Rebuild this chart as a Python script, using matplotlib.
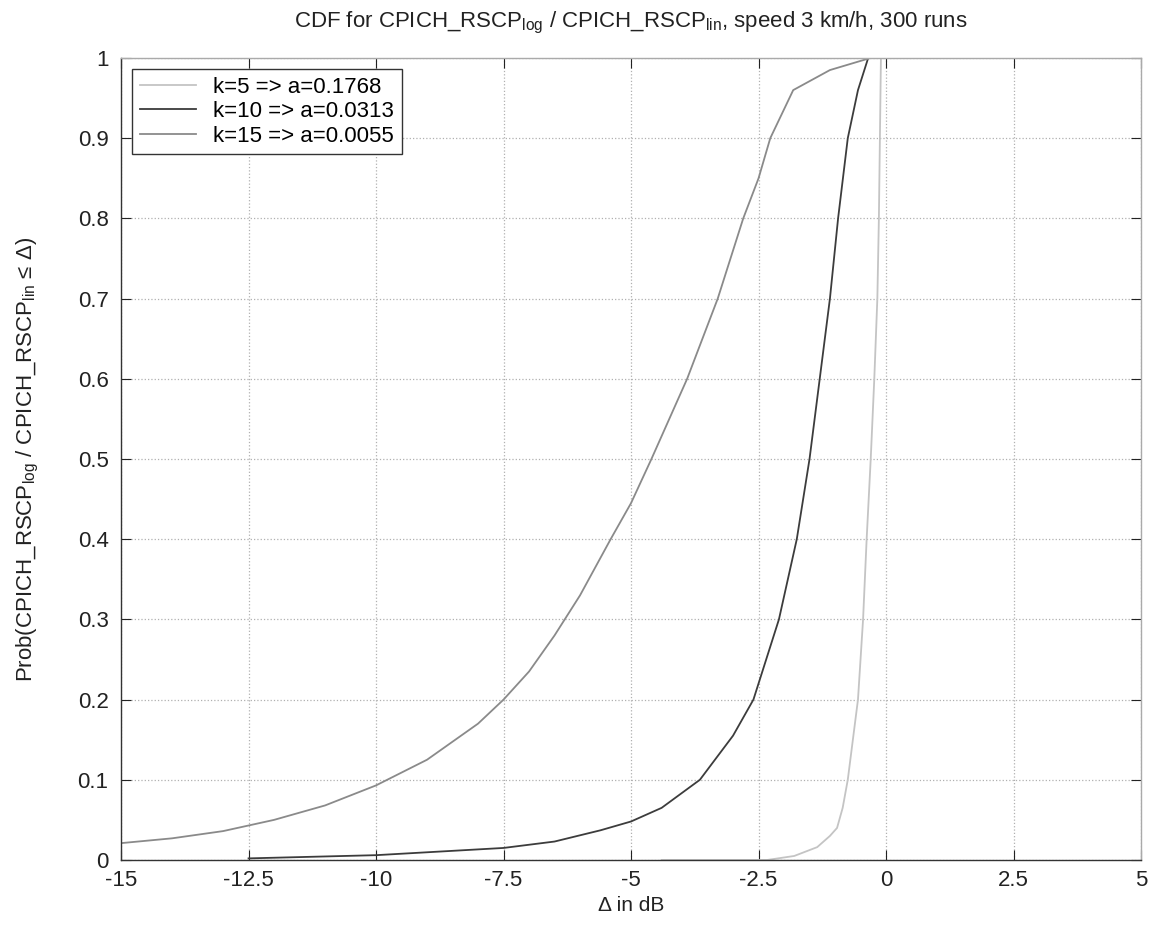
#!/usr/bin/env python3
"""CDF of log/lin averaged CPICH RSCP for three filter lengths (grayscale, MATLAB style)."""
import matplotlib
matplotlib.use("Agg")
import matplotlib.pyplot as plt

plt.rcParams["font.family"] = ["Liberation Sans", "DejaVu Sans"]
plt.rcParams["mathtext.fontset"] = "custom"
plt.rcParams["mathtext.rm"] = "Liberation Sans"
plt.rcParams["mathtext.default"] = "regular"
plt.rcParams["axes.unicode_minus"] = False

# k=5 => a=0.1768 (steepest, light gray)
k5_x = [-4.4, -2.33, -1.8, -1.35, -1.1, -0.96, -0.85, -0.75, -0.65, -0.55,
        -0.45, -0.38, -0.30, -0.23, -0.17, -0.14, -0.12, -0.10]
k5_y = [0.0, 0.0, 0.005, 0.016, 0.03, 0.04, 0.065, 0.10, 0.15, 0.20,
        0.30, 0.40, 0.50, 0.60, 0.70, 0.80, 0.90, 1.0]

# k=10 => a=0.0313 (dark)
k10_x = [-12.5, -10, -7.5, -6.5, -5.6, -5.0, -4.4, -3.65, -3.0, -2.6, -2.1,
         -1.75, -1.5, -1.3, -1.1, -0.94, -0.75, -0.55, -0.35]
k10_y = [0.002, 0.006, 0.015, 0.023, 0.037, 0.048, 0.065, 0.10, 0.155, 0.20, 0.30,
         0.40, 0.50, 0.60, 0.70, 0.80, 0.90, 0.96, 1.0]

# k=15 => a=0.0055 (widest, medium gray)
k15_x = [-15, -14, -13, -12.5, -12, -11, -10, -9, -8, -7.5, -7, -6.5, -6.3, -6,
         -5.4, -5.0, -4.6, -3.9, -3.3, -2.8, -2.5, -2.27, -1.82, -1.1, -0.31]
k15_y = [0.021, 0.027, 0.036, 0.043, 0.05, 0.068, 0.093, 0.125, 0.17, 0.20, 0.235,
         0.28, 0.30, 0.33, 0.40, 0.445, 0.50, 0.60, 0.70, 0.80, 0.85, 0.90, 0.96,
         0.985, 1.0]

labels = ["k=5 => a=0.1768", "k=10 => a=0.0313", "k=15 => a=0.0055"]
colors = ["#c4c4c4", "#3c3c3c", "#8a8a8a"]

xticks = [-15, -12.5, -10, -7.5, -5, -2.5, 0, 2.5, 5]
xtick_labels = ["-15", "-12.5", "-10", "-7.5", "-5", "-2.5", "0", "2.5", "5"]
yticks = [0, 0.1, 0.2, 0.3, 0.4, 0.5, 0.6, 0.7, 0.8, 0.9, 1]
ytick_labels = ["0", "0.1", "0.2", "0.3", "0.4", "0.5", "0.6", "0.7", "0.8", "0.9", "1"]

fs = 16

fig = plt.figure(figsize=(11.53, 9.27), dpi=100)
ax = fig.add_axes([0.105, 0.0723, 0.8846, 0.8651])

for xs, ys, lab, col in zip([k5_x, k10_x, k15_x], [k5_y, k10_y, k15_y], labels, colors):
    ax.plot(xs, ys, color=col, lw=1.3, label=lab)

ax.set_xlim(-15, 5)
ax.set_ylim(0, 1)
ax.set_xticks(xticks)
ax.set_xticklabels(xtick_labels)
ax.set_yticks(yticks)
ax.set_yticklabels(ytick_labels)
ax.tick_params(direction="in", length=7, labelsize=fs, colors="#222222",
               top=True, right=True)
ax.tick_params(axis="x", pad=7)
ax.tick_params(axis="y", pad=9)
ax.grid(True, linestyle=":", color="#b0b0b0", lw=0.9)
for s in ax.spines.values():
    s.set_color("#333333")
    s.set_linewidth(1.0)
ax.spines["top"].set_color("#aaaaaa")
ax.spines["right"].set_color("#aaaaaa")

ax.set_title("CDF for CPICH_RSCP$_{log}$ / CPICH_RSCP$_{lin}$, speed 3 km/h, 300 runs",
             fontsize=fs, pad=22, color="#222222")
ax.set_xlabel("Δ in dB", fontsize=fs - 1, color="#222222", labelpad=4)
ax.set_ylabel("Prob(CPICH_RSCP$_{log}$ / CPICH_RSCP$_{lin}$ ≤ Δ)", fontsize=fs,
              color="#222222", labelpad=26)

leg = ax.legend(loc="upper left", fontsize=fs, fancybox=False, framealpha=1,
                edgecolor="#333333", handlelength=2.5, borderaxespad=0.5,
                labelspacing=0.15, borderpad=0.35, handletextpad=0.8)
leg.get_frame().set_linewidth(1.0)

fig.savefig("out.png", dpi=100)
